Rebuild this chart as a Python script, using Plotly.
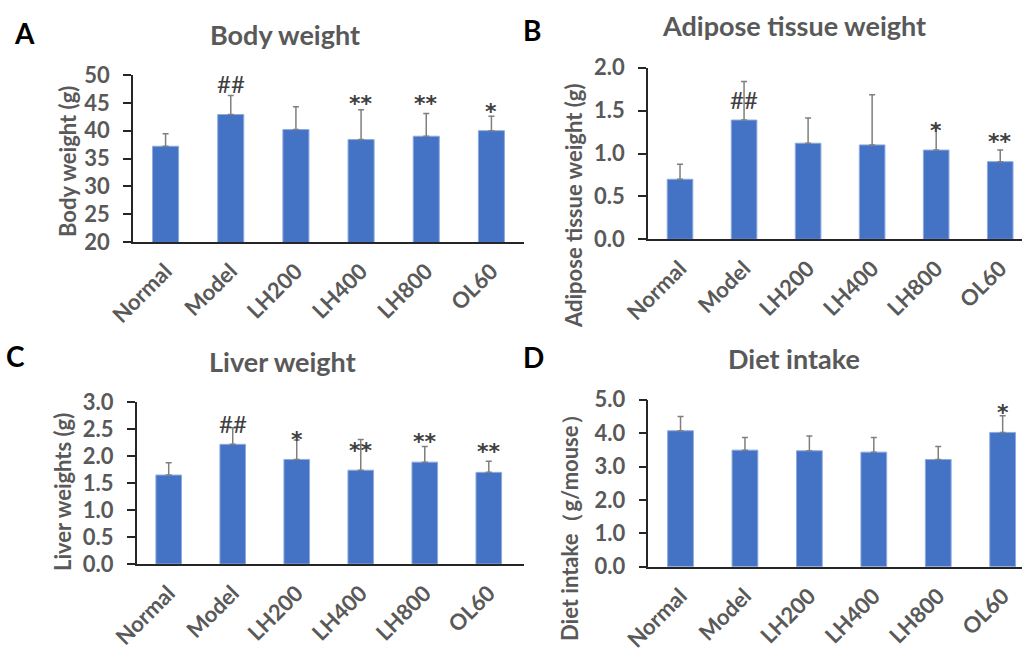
import plotly.graph_objects as go

groups = ["Normal", "Model", "LH200", "LH400", "LH800", "OL60"]

# mean values and upper SD per panel
body_mean = [37.2, 42.9, 40.2, 38.4, 39.0, 40.0]
body_sd = [2.25, 3.4, 4.1, 5.35, 4.1, 2.6]
body_sig = ["", "##", "", "**", "**", "*"]

adipose_mean = [0.70, 1.39, 1.12, 1.10, 1.04, 0.905]
adipose_sd = [0.175, 0.45, 0.295, 0.585, 0.29, 0.135]
adipose_sig = ["", "##", "", "", "*", "**"]

liver_mean = [1.65, 2.22, 1.94, 1.74, 1.89, 1.70]
liver_sd = [0.23, 0.31, 0.36, 0.57, 0.29, 0.205]
liver_sig = ["", "##", "*", "**", "**", "**"]

diet_mean = [4.07, 3.49, 3.47, 3.43, 3.21, 4.02]
diet_sd = [0.43, 0.38, 0.44, 0.44, 0.39, 0.50]
diet_sig = ["", "", "", "", "", "*"]

# vertical placement of the significance marks (data units)
sig_heights = {
    "A": [None, 48.4, None, 45.7, 45.7, 44.4],
    "B": [None, 1.635, None, None, 1.33, 1.196],
    "C": [None, 2.61, 2.41, 2.19, 2.36, 2.18],
    "D": [None, None, None, None, None, 4.77],
}

FONT = "Lato"
GREY = "#595959"
BAR = "#4472C4"
W, H = 1022, 652

panels = [
    dict(key="A", mean=body_mean, sd=body_sd, sig=body_sig, title="Body weight",
         ytitle="Body weight (g)", yrange=[20, 50], dtick=5, fmt="d",
         xdom=[133, 524], ydom=[75, 242], xr=[-0.5, 5.5],
         letter=(24, 33), tpos=(285, 34), ytpos=(67, 162)),
    dict(key="B", mean=adipose_mean, sd=adipose_sd, sig=adipose_sig, title="Adipose tissue weight",
         ytitle="Adipose tissue weight (g)", yrange=[0, 2], dtick=0.5, fmt=".1f",
         xdom=[648, 1022], ydom=[67.7, 239.3], xr=[-0.5, 5.34],
         letter=(532, 30), tpos=(794, 26), ytpos=(574, 206)),
    dict(key="C", mean=liver_mean, sd=liver_sd, sig=liver_sig, title="Liver weight",
         ytitle="Liver weights (g)", yrange=[0, 3], dtick=0.5, fmt=".1f",
         xdom=[136.7, 524], ydom=[402.3, 564], xr=[-0.5, 5.55],
         letter=(15, 356), tpos=(282, 361), ytpos=(62, 492)),
    dict(key="D", mean=diet_mean, sd=diet_sd, sig=diet_sig, title="Diet intake",
         ytitle="Diet intake（g/mouse）", yrange=[0, 5], dtick=1, fmt=".1f",
         xdom=[648.3, 1022], ydom=[399.7, 566.7], xr=[-0.5, 5.3],
         letter=(533, 357), tpos=(794, 358), ytpos=(569, 522)),
]

fig = go.Figure()
annotations = []
layout = {}

for i, p in enumerate(panels, start=1):
    xa = "x" if i == 1 else f"x{i}"
    ya = "y" if i == 1 else f"y{i}"
    fig.add_trace(go.Bar(
        x=groups, y=p["mean"], xaxis=xa, yaxis=ya,
        marker=dict(color=BAR, line=dict(color="#8faadc", width=1)),
        width=0.4,
        error_y=dict(type="data", symmetric=False, array=p["sd"],
                     arrayminus=[0] * len(groups), color="#7f7f7f",
                     thickness=1.5, width=3),
        showlegend=False, hoverinfo="skip",
    ))
    x0, x1 = p["xdom"]
    y0, y1 = p["ydom"]
    layout[f"xaxis{'' if i == 1 else i}"] = dict(
        domain=[x0 / W, min(x1 / W, 1.0)], anchor=ya, range=p["xr"],
        showline=True, linecolor="#262626", linewidth=1.5, ticks="",
        tickangle=-45, ticklabelstandoff=6,
        tickfont=dict(family=FONT, size=22, color=GREY, weight="bold"),
        showgrid=False, zeroline=False, fixedrange=True, automargin=False,
    )
    layout[f"yaxis{'' if i == 1 else i}"] = dict(
        domain=[1 - y1 / H, 1 - y0 / H], anchor=xa, range=p["yrange"],
        dtick=p["dtick"], tick0=p["yrange"][0], tickformat=p["fmt"],
        showline=True, linecolor="#262626", linewidth=1.5,
        ticks="outside", ticklen=8, tickcolor="#262626", tickwidth=1.5,
        ticklabelstandoff=9,
        tickfont=dict(family=FONT, size=22, color=GREY, weight="bold"),
        showgrid=False, zeroline=False, fixedrange=True, automargin=False,
    )
    # panel letter
    annotations.append(dict(text=p["key"], x=p["letter"][0] / W, y=1 - p["letter"][1] / H,
                            xref="paper", yref="paper", showarrow=False,
                            xanchor="center", yanchor="middle",
                            font=dict(family=FONT, size=28, color="black", weight="bold")))
    # panel title
    annotations.append(dict(text=p["title"], x=p["tpos"][0] / W, y=1 - p["tpos"][1] / H,
                            xref="paper", yref="paper", showarrow=False,
                            xanchor="center", yanchor="middle",
                            font=dict(family=FONT, size=27, color=GREY, weight="bold")))
    # y-axis title
    annotations.append(dict(text=p["ytitle"], x=p["ytpos"][0] / W, y=1 - p["ytpos"][1] / H,
                            xref="paper", yref="paper", showarrow=False, textangle=-90,
                            xanchor="center", yanchor="middle",
                            font=dict(family=FONT, size=22, color=GREY, weight="bold")))
    # significance marks
    for g, s, h in zip(groups, p["sig"], sig_heights[p["key"]]):
        if not s:
            continue
        if s.startswith("#"):
            f = dict(family=FONT, size=24, color="#404040")
            shift = 0
        else:
            f = dict(family="DejaVu Sans", size=22, color="#404040", weight="bold")
            shift = -5
        annotations.append(dict(text=s, x=g, y=h, xref=xa, yref=ya, showarrow=False,
                                xanchor="center", yanchor="middle", yshift=shift, font=f))

fig.update_layout(
    template="none",
    width=W, height=H, margin=dict(l=0, r=0, t=0, b=0, autoexpand=False),
    paper_bgcolor="white", plot_bgcolor="white",
    annotations=annotations, **layout,
)

fig.write_html("out.html")
